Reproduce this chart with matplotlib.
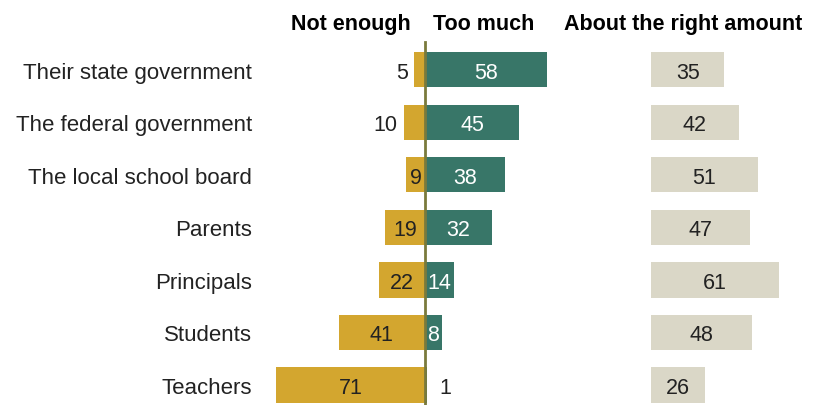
import numpy as np
import matplotlib.pyplot as plt

categories = ['Their state government', 'The federal government', 'The local school board',
              'Parents', 'Principals', 'Students', 'Teachers']
not_enough = [5, 10, 9, 19, 22, 41, 71]
too_much = [58, 45, 38, 32, 14, 8, 1]
about_right = [35, 42, 51, 47, 61, 48, 26]

GOLD = '#D3A62F'
TEAL = '#387668'
BEIGE = '#DAD7C7'
LINE = '#7A7A3C'

plt.rcParams['font.family'] = ['Liberation Sans', 'DejaVu Sans']

fig = plt.figure(figsize=(8.13, 4.06), dpi=100)
ax = fig.add_axes([0, 0, 1, 1])
ax.set_xlim(-202.4, 184.8)
ax.set_ylim(6.381, -1.352)
ax.axis('off')

y = np.arange(len(categories))
h = 0.667
right_off = 107.6
va = 'center_baseline'

ax.barh(y, [-v for v in not_enough], height=h, color=GOLD)
ax.barh(y, too_much, height=h, color=TEAL)
ax.barh(y, about_right, left=right_off, height=h, color=BEIGE)
ax.plot([0, 0], [-0.54, 6.381], color=LINE, lw=2)

fs = 15.5
for i, cat in enumerate(categories):
    ax.text(-82.4, i, cat, ha='right', va=va, fontsize=16, color='#222222')

    ne = not_enough[i]
    # 5 and 10 sit outside their bars in the original
    if ne <= 5 or ne == 10:
        ax.text(-ne - 3, i, str(ne), ha='right', va=va, fontsize=fs, color='#222222')
    else:
        ax.text(-ne / 2, i, str(ne), ha='center', va=va, fontsize=fs, color='#222222')

    tm = too_much[i]
    if tm < 5:
        ax.text(tm + 6, i, str(tm), ha='left', va=va, fontsize=fs, color='#222222')
    else:
        ax.text(tm / 2, i, str(tm), ha='center', va=va, fontsize=fs, color='white')

    ar = about_right[i]
    ax.text(right_off + ar / 2, i, str(ar), ha='center', va=va, fontsize=fs, color='#222222')

# column headers
ax.text(-7, -0.93, 'Not enough', ha='right', va=va, fontsize=15.5, fontweight='bold')
ax.text(4, -0.93, 'Too much', ha='left', va=va, fontsize=15.5, fontweight='bold')
ax.text(right_off + 15.3, -0.93, 'About the right amount', ha='center', va=va,
        fontsize=15.5, fontweight='bold')

fig.savefig('out.png', dpi=100)
